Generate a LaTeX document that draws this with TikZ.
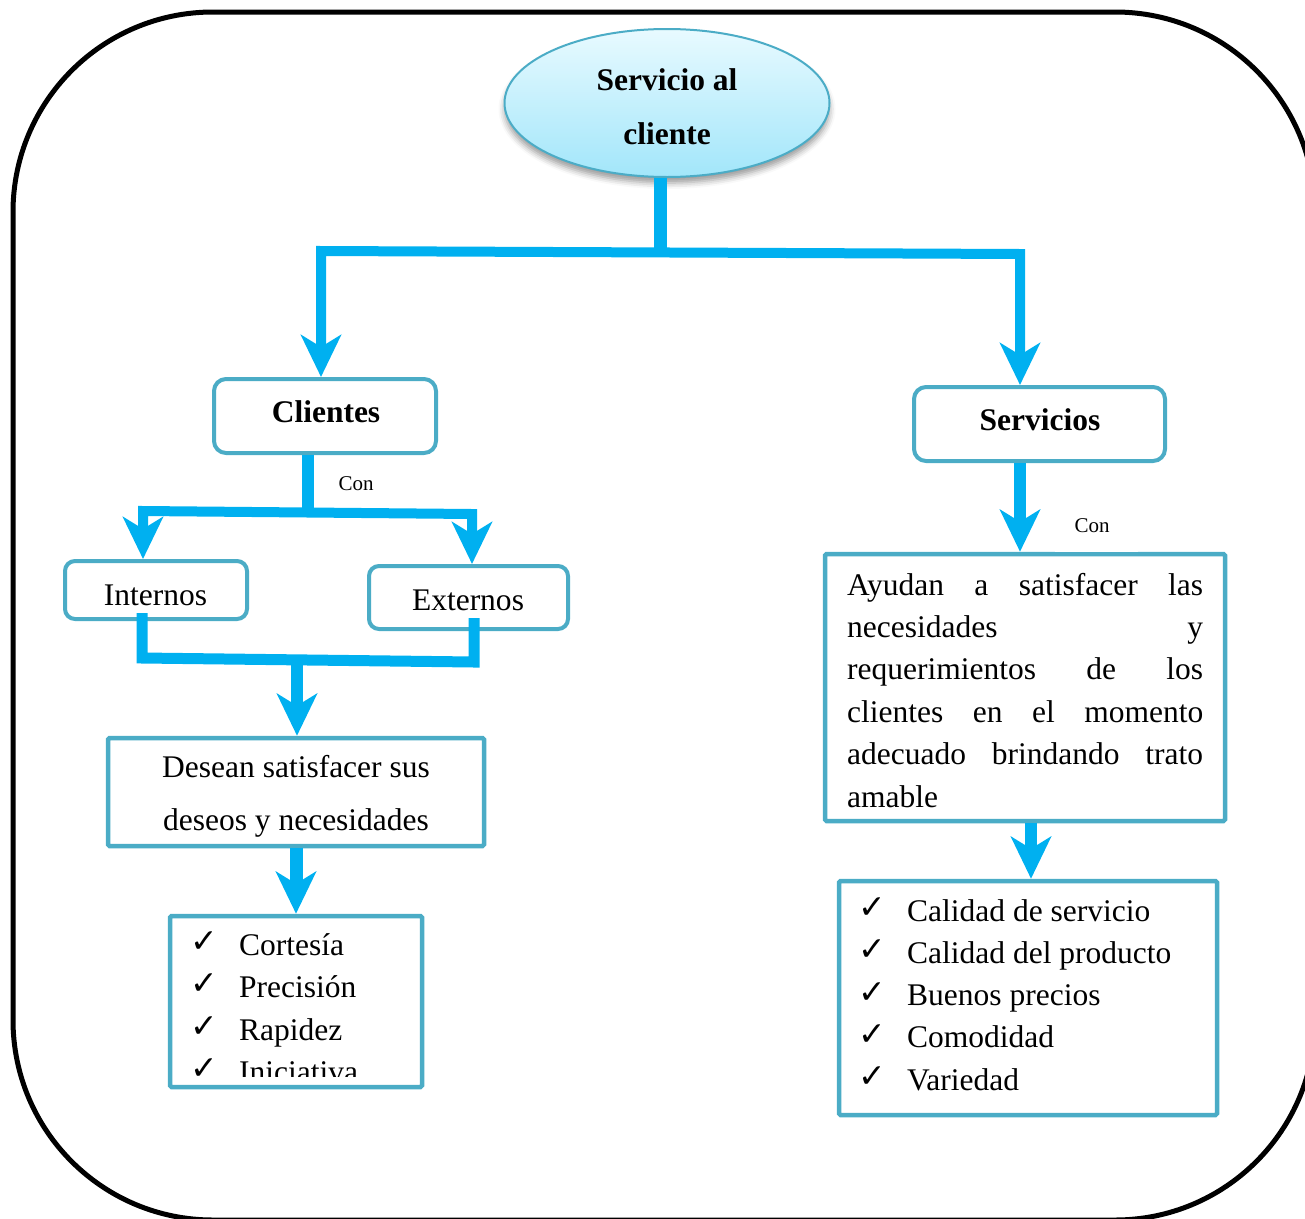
\documentclass[tikz,border=0pt]{standalone}
\usepackage{fontspec}
\setmainfont{Liberation Serif}
\newfontfamily\symf{DejaVu Sans}
\usetikzlibrary{arrows.meta,shapes.geometric,shadows.blur}
\definecolor{arrowblue}{HTML}{00B0F0}
\definecolor{boxteal}{HTML}{4BACC6}
\definecolor{elltop}{HTML}{E8FAFF}
\definecolor{ellbot}{HTML}{A2E6FA}
\tikzset{
  bigtip/.tip={Stealth[length=42pt,width=40pt,inset=12pt]},
  bar/.style={draw=arrowblue, line width=10pt, line join=miter},
  rbox/.style={draw=boxteal, line width=4pt, rounded corners=12pt, fill=white, inner sep=0pt},
  sbox/.style={draw=boxteal, line width=4.5pt, rounded corners=1.5pt, fill=white, inner sep=0pt},
  txt/.style={font=\fontsize{31.5pt}{42pt}\selectfont, inner sep=0pt},
  btxt/.style={font=\fontsize{31.5pt}{42pt}\selectfont\bfseries, inner sep=0pt},
  small/.style={font=\fontsize{21pt}{24pt}\selectfont, inner sep=0pt},
  chk/.style={font=\symf\bfseries\fontsize{33pt}{34pt}\selectfont, inner sep=0pt}
}
\begin{document}
\begin{tikzpicture}[x=1pt,y=-1pt]
\clip (0,0) rectangle (1305,1218);
% outer frame
\draw[line width=5pt, rounded corners=200pt] (13,12) rectangle (1315,1220);

% top ellipse
\node[ellipse, draw=boxteal, line width=2pt, top color=elltop, bottom color=ellbot,
      minimum width=325pt, minimum height=148pt,
      blur shadow={shadow xshift=0pt, shadow yshift=-6pt, shadow blur radius=6pt}] (sac) at (667,103) {};
\node[btxt, anchor=base] (sac1) at (667,90) {Servicio al};
\node[btxt, anchor=base] (sac2) at (667,144) {cliente};

% boxes
\node[rbox, minimum width=222pt, minimum height=74pt] (cli) at (325,416) {};
\node[btxt, anchor=base] (clit) at (326,422) {Clientes};
\node[rbox, minimum width=251pt, minimum height=74pt] (ser) at (1039.5,424) {};
\node[btxt, anchor=base] (sert) at (1040,430) {Servicios};
\node[rbox, rounded corners=10pt, minimum width=182pt, minimum height=58pt] (int) at (156,590) {};
\node[txt, anchor=base] (intt) at (155.5,605) {Internos};
\node[rbox, rounded corners=10pt, minimum width=199pt, minimum height=63pt] (ext) at (468.5,597.5) {};
\node[txt, anchor=base] (extt) at (468,610) {Externos};
\node[sbox, minimum width=376pt, minimum height=108pt] (des) at (296,792) {};
\node[txt, anchor=base] (des1) at (296,777) {Desean satisfacer sus};
\node[txt, anchor=base] (des2) at (296,830) {deseos y necesidades};

% left list
\node[sbox, minimum width=252pt, minimum height=171pt] (ll) at (296,1001.5) {};
\begin{scope}
\clip (170,916) rectangle (422,1076);
\foreach \t [count=\i] in {Cortesía,Precisión,Rapidez,Iniciativa}{
  \node[chk] (lc\i) at (204,{942+42.5*(\i-1)}) {✓};
  \node[txt, anchor=base west] (lt\i) at (239,{955+42.5*(\i-1)}) {\t};
}
\end{scope}

% right text box
\node[sbox, minimum width=400pt, minimum height=267pt] (tr) at (1025,687.5) {};
\node[txt, anchor=base west] (tr1) at (847,595) {\makebox[356pt][s]{Ayudan a satisfacer las}};
\node[txt, anchor=base west] (tr2) at (847,637.4) {\makebox[356pt][s]{necesidades y}};
\node[txt, anchor=base west] (tr3) at (847,679.8) {\makebox[356pt][s]{requerimientos de los}};
\node[txt, anchor=base west] (tr4) at (847,722.2) {\makebox[356pt][s]{clientes en el momento}};
\node[txt, anchor=base west] (tr5) at (847,764.6) {\makebox[356pt][s]{adecuado brindando trato}};
\node[txt, anchor=base west] (tr6) at (847,807) {amable};

% right list
\node[sbox, minimum width=378pt, minimum height=234pt] (lr) at (1028,998) {};
\foreach \t [count=\i] in {Calidad de servicio,Calidad del producto,Buenos precios,Comodidad,Variedad}{
  \node[chk] (rc\i) at (872,{908+42.3*(\i-1)}) {✓};
  \node[txt, anchor=base west] (rt\i) at (907,{921+42.3*(\i-1)}) {\t};
}

% connectors: top
\coordinate (j1) at (660,251);
\coordinate (jl) at (321,251);
\coordinate (jr) at (1020,254);
\draw[bar, line width=13pt] (sac.south -| j1) -- (j1);
\draw[bar, bigtip-bigtip] (cli.north -| jl) -- (jl) -- (jr) -- (ser.north -| jr);

% Clientes -> Internos / Externos
\coordinate (k) at (308,511);
\coordinate (kl) at (143,511);
\coordinate (kr) at (472,514);
\draw[bar, line width=12pt] (cli.south -| k) -- (k);
\draw[bar, bigtip-bigtip] (int.north -| kl) -- (kl) -- (kr) -- (ext.north -| kr);
\node[small, anchor=base] (con1) at (356,490) {Con};

% Internos / Externos -> Desean
\coordinate (ml) at (142,658);
\coordinate (mr) at (474,662);
\coordinate (mc) at (297,660);
\draw[bar, line width=11pt] ([yshift=8pt]int.south -| ml) -- (ml) -- (mr) -- ([yshift=13pt]ext.south -| mr);
\draw[bar, line width=12pt, -bigtip] (mc) -- (des.north -| mc);

% Desean -> list
\draw[bar, line width=13pt, -bigtip] (des.south) -- (ll.north);

% Servicios -> text box
\coordinate (sx) at (1020,0);
\draw[bar, line width=12pt, -bigtip] (ser.south -| sx) -- (tr.north -| sx);
\fill[white] (1055,515) rectangle (1138,552);
\node[small, anchor=base] (con2) at (1092,532) {Con};

% text box -> right list
\coordinate (tx) at (1031,0);
\draw[bar, line width=12pt, -bigtip] (tr.south -| tx) -- (lr.north -| tx);
\end{tikzpicture}
\end{document}
